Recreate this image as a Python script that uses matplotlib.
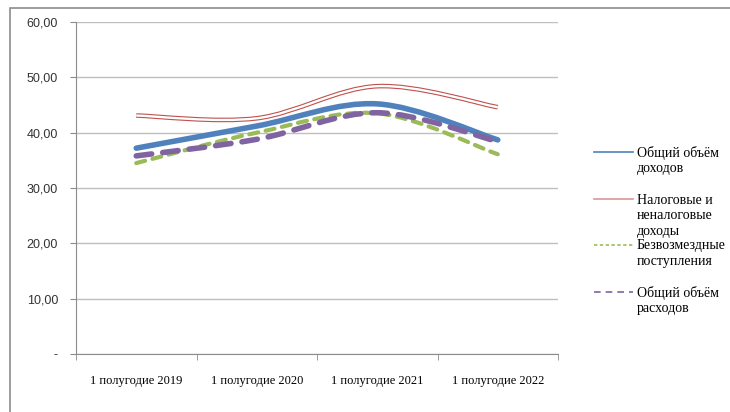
import numpy as np
import matplotlib.pyplot as plt
from matplotlib.path import Path
from matplotlib.patches import PathPatch, Rectangle
from matplotlib.lines import Line2D

# categories and values
periods = ['1 полугодие 2019', '1 полугодие 2020', '1 полугодие 2021', '1 полугодие 2022']
total_income = [37.2, 41.2, 45.2, 38.7]
tax_income = [43.1, 42.6, 48.4, 44.6]
gratuitous = [34.5, 40.0, 43.5, 36.1]
total_expenses = [35.8, 38.8, 43.6, 38.4]

yticks = [0, 10, 20, 30, 40, 50, 60]
ytick_labels = ['-', '10,00', '20,00', '30,00', '40,00', '50,00', '60,00']

W, H = 730, 412


def smooth_path(xs, ys):
    """Bezier path through the points, like Excel's smoothed line."""
    pts = np.column_stack([xs, ys]).astype(float)
    n = len(pts)
    verts = [pts[0]]
    codes = [Path.MOVETO]
    for i in range(n - 1):
        p0 = pts[i - 1] if i > 0 else pts[i]
        p1 = pts[i]
        p2 = pts[i + 1]
        p3 = pts[i + 2] if i + 2 < n else pts[i + 1]
        c1 = p1 + (p2 - p0) / 6
        c2 = p2 - (p3 - p1) / 6
        verts += [c1, c2, p2]
        codes += [Path.CURVE4] * 3
    return Path(verts, codes)


fig = plt.figure(figsize=(W / 100, H / 100), dpi=100)
fig.patch.set_facecolor('white')

# outer chart border
fig.add_artist(Rectangle((10 / W, -0.1), 1.2, 1 - 8 / H + 0.1, transform=fig.transFigure,
                         fill=False, edgecolor='#8c8c8c', linewidth=1.2))

ax = fig.add_axes([76 / W, 1 - 354 / H, (558 - 76) / W, (354 - 22) / H])
x = np.arange(len(periods))

styles = [
    (total_income, dict(edgecolor='#4F81BD', linewidth=4.0, capstyle='round')),
    (tax_income, dict(edgecolor='#C0504D', linewidth=3.3)),
    (gratuitous, dict(edgecolor='#9BBB59', linewidth=3.0, linestyle=(0, (2.2, 1.8)), capstyle='round')),
    (total_expenses, dict(edgecolor='#8064A2', linewidth=4.0, linestyle=(0, (2.8, 2.0)), capstyle='round')),
]
for i, (vals, st) in enumerate(styles):
    ax.add_patch(PathPatch(smooth_path(x, vals), facecolor='none', zorder=3 + i, **st))
    if vals is tax_income:
        ax.add_patch(PathPatch(smooth_path(x, vals), facecolor='none', edgecolor='white',
                               linewidth=1.7, zorder=3 + i))

ax.set_xlim(-0.5, len(periods) - 0.5)
ax.set_ylim(0, 60)
ax.set_yticks(yticks)
ax.set_yticklabels(ytick_labels, family='Liberation Sans', fontsize=9, color='#333333')
ax.set_xticks(x)
ax.set_xticklabels(periods, family='Liberation Serif', fontsize=9)
ax.set_xticks(np.arange(-0.5, len(periods)), minor=True)
ax.tick_params(axis='x', which='major', length=0, pad=15)
ax.tick_params(axis='x', which='minor', length=4, color='#8c8c8c')
ax.tick_params(axis='y', length=4, color='#8c8c8c', pad=9)
ax.grid(axis='y', color='#bfbfbf', linewidth=1)
ax.set_axisbelow(True)
for s in ['top', 'right']:
    ax.spines[s].set_visible(False)
for s in ['left', 'bottom']:
    ax.spines[s].set_color('#8c8c8c')

# manual legend like Excel's
legend = [
    (['Общий объём', 'доходов'], 152, dict(color='#4F81BD')),
    (['Налоговые и', 'неналоговые', 'доходы'], 199, dict(color='#D99694')),
    (['Безвозмездные', 'поступления'], 245, dict(color='#9BBB59', linestyle=(0, (2, 1.5)))),
    (['Общий объём', 'расходов'], 292, dict(color='#8064A2', linestyle=(0, (4, 3)))),
]
for lines, yy, st in legend:
    fig.add_artist(Line2D([594 / W, 633 / W], [1 - yy / H] * 2, transform=fig.transFigure,
                          linewidth=1.2, **st))
    for k, line in enumerate(lines):
        fig.text(637 / W, 1 - (yy + 1 + k * 15.5) / H, line, family='Liberation Serif',
                 fontsize=10, va='center', ha='left')

fig.savefig('out.png', dpi=100)
